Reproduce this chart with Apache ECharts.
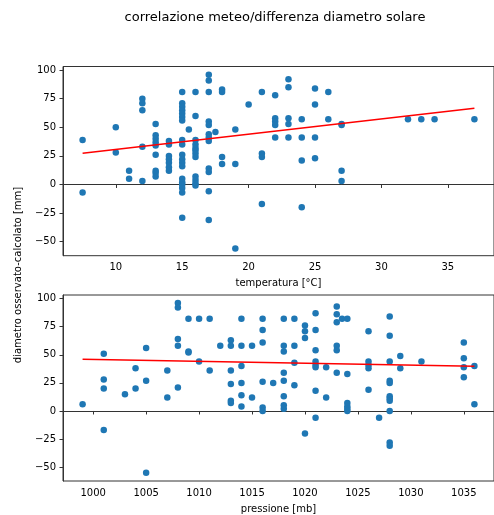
<!DOCTYPE html>
<html>
<head>
<meta charset="utf-8">
<script src="https://cdn.jsdelivr.net/npm/echarts@6/dist/echarts.min.js"></script>
<style>
  html, body { margin: 0; padding: 0; background: #fff; }
  #chart { width: 494px; height: 515px; }
</style>
</head>
<body>
<div id="chart"></div>
<script>
// Text
const chartTitle = 'correlazione meteo/differenza diametro solare';
const diffLabel = 'diametro osservato-calcolato [mm]';
const tempLabel = 'temperatura [°C]';
const pressLabel = 'pressione [mb]';

// Tick values
const tempTicks = [10, 15, 20, 25, 30, 35];
const pressTicks = [1000, 1005, 1010, 1015, 1020, 1025, 1030, 1035];
const diffTicks = [-50, -25, 0, 25, 50, 75, 100];

// Observations: [temperature °C, observed - computed diameter mm]
const tempPoints = [
  [7.5, 39], [7.5, -7],
  [10, 50], [10, 28],
  [11, 12], [11, 5],
  [12, 75], [12, 71], [12, 65], [12, 33], [12, 3],
  [13, 53], [13, 43], [13, 40], [13, 37], [13, 34], [13, 26], [13, 12], [13, 10], [13, 7],
  [14, 38], [14, 35], [14, 25], [14, 22], [14, 19], [14, 15], [14, 12],
  [15, 81], [15, 71], [15, 68], [15, 65], [15, 62], [15, 59], [15, 56], [15, 39], [15, 35],
  [15, 26], [15, 22], [15, 19], [15, 16], [15, 5], [15, 2], [15, 0], [15, -3], [15, -7], [15, -29],
  [15.5, 48],
  [16, 81], [16, 60], [16, 39], [16, 35], [16, 32], [16, 30], [16, 27], [16, 24], [16, 7], [16, 4], [16, 1], [16, -1],
  [17, 96], [17, 91], [17, 81], [17, 55], [17, 52], [17, 44], [17, 41], [17, 38], [17, 14], [17, 11], [17, -6], [17, -31],
  [17.5, 46],
  [18, 83], [18, 81], [18, 24], [18, 18],
  [19, 48], [19, 18], [19, -56],
  [20, 70],
  [21, 81], [21, 27], [21, 24], [21, -17],
  [22, 78], [22, 58], [22, 55], [22, 52], [22, 41],
  [23, 92], [23, 85], [23, 58], [23, 53], [23, 41],
  [24, 57], [24, 41], [24, 21], [24, -20],
  [25, 84], [25, 70], [25, 41], [25, 23],
  [26, 81], [26, 57],
  [27, 53], [27, 52], [27, 12], [27, 3],
  [32, 57], [33, 57], [34, 57], [37, 57]
];

// Observations: [pressure mb, observed - computed diameter mm]
const pressPoints = [
  [999, 6],
  [1001, 51], [1001, 28], [1001, 20], [1001, -17],
  [1003, 15],
  [1004, 38], [1004, 20],
  [1005, 56], [1005, 27], [1005, -55],
  [1007, 36], [1007, 12],
  [1008, 96], [1008, 92], [1008, 64], [1008, 58], [1008, 21],
  [1009, 82], [1009, 53], [1009, 52],
  [1010, 82], [1010, 44],
  [1011, 82], [1011, 36],
  [1012, 58],
  [1013, 63], [1013, 58], [1013, 36], [1013, 24], [1013, 9], [1013, 7],
  [1014, 82], [1014, 58], [1014, 40], [1014, 25], [1014, 14], [1014, 4],
  [1015, 58], [1015, 12],
  [1016, 82], [1016, 72], [1016, 61], [1016, 26], [1016, 3], [1016, 0],
  [1017, 25],
  [1018, 82], [1018, 58], [1018, 53], [1018, 34], [1018, 27], [1018, 13], [1018, 5], [1018, 2],
  [1019, 82], [1019, 58], [1019, 43], [1019, 23],
  [1020, 76], [1020, 71], [1020, 65], [1020, -20],
  [1021, 87], [1021, 72], [1021, 54], [1021, 44], [1021, 41], [1021, 39], [1021, 18], [1021, -6],
  [1022, 39], [1022, 12],
  [1023, 93], [1023, 86], [1023, 79], [1023, 58], [1023, 54], [1023, 34],
  [1023.5, 82],
  [1024, 82], [1024, 33], [1024, 7], [1024, 4], [1024, 2], [1024, 0],
  [1026, 71], [1026, 44], [1026, 41], [1026, 38], [1026, 19],
  [1027, -6],
  [1028, 84], [1028, 67], [1028, 44], [1028, 27], [1028, 25], [1028, 13], [1028, 11], [1028, 9], [1028, 0], [1028, -28], [1028, -31],
  [1029, 49], [1029, 38],
  [1031, 44],
  [1035, 61], [1035, 47], [1035, 39], [1035, 30],
  [1036, 40], [1036, 6]
];

// Linear fit end points
const tempTrend = [[7.5, 27.3], [37, 66.6]];
const pressTrend = [[999, 46.1], [1036, 39.7]];

// Axis extents
const tempRange = [6.025, 38.475];
const pressRange = [997.15, 1037.85];
const diffRange = [-62.3, 103.2];

const FONT = 'DejaVu Sans';
const INK = '#000';
const FRAME = '#333';
const DOT = '#1f77b4';

// Plain numbers, with a true minus sign for negatives and no digit grouping
const numFmt = v => (v < 0 ? '\u2212' + Math.abs(v) : String(v));

function xAxis(gridIndex, range, ticks, name) {
  return {
    type: 'value', gridIndex, min: range[0], max: range[1],
    name, nameLocation: 'middle', nameGap: 23,
    nameTextStyle: { fontFamily: FONT, fontSize: 10, color: INK },
    axisLine: { show: true, lineStyle: { color: FRAME, width: 1 } },
    axisTick: { show: true, length: 3.5, customValues: ticks, lineStyle: { color: FRAME, width: 1 } },
    axisLabel: { customValues: ticks, fontFamily: FONT, fontSize: 10, color: INK, margin: 7, formatter: numFmt },
    splitLine: { show: false }
  };
}

function yAxis(gridIndex) {
  return {
    type: 'value', gridIndex, min: diffRange[0], max: diffRange[1],
    axisLine: { show: true, lineStyle: { color: FRAME, width: 1 } },
    axisTick: { show: true, length: 3.5, customValues: diffTicks, lineStyle: { color: FRAME, width: 1 } },
    axisLabel: { customValues: diffTicks, fontFamily: FONT, fontSize: 10, color: INK, margin: 7, formatter: numFmt },
    splitLine: { show: false }
  };
}

function scatter(idx, data) {
  return {
    type: 'scatter', xAxisIndex: idx, yAxisIndex: idx, data,
    symbolSize: 6.5, itemStyle: { color: DOT, opacity: 1 }, z: 2, silent: true
  };
}

function trend(idx, data) {
  return {
    type: 'line', xAxisIndex: idx, yAxisIndex: idx, data,
    showSymbol: false, lineStyle: { color: '#ff0000', width: 1.5 }, z: 3, silent: true
  };
}

const chart = echarts.init(document.getElementById('chart'), null, { renderer: 'canvas' });
chart.setOption({
  animation: false,
  backgroundColor: '#fff',
  grid: [
    { left: 63, top: 66.5, width: 436.5, height: 189.2, show: true, borderColor: FRAME, borderWidth: 1, backgroundColor: 'transparent' },
    { left: 63, top: 295, width: 436.5, height: 188.3, show: true, borderColor: FRAME, borderWidth: 1, backgroundColor: 'transparent' }
  ],
  xAxis: [
    xAxis(0, tempRange, tempTicks, tempLabel),
    xAxis(1, pressRange, pressTicks, pressLabel)
  ],
  yAxis: [yAxis(0), yAxis(1)],
  series: [
    scatter(0, tempPoints), trend(0, tempTrend),
    scatter(1, pressPoints), trend(1, pressTrend)
  ],
  graphic: [
    {
      type: 'text', x: 275, y: 18,
      style: { text: chartTitle, fontFamily: FONT, fontSize: 13, fill: INK, align: 'center', verticalAlign: 'middle' }
    },
    {
      type: 'text', x: 18, y: 275, rotation: Math.PI / 2,
      style: { text: diffLabel, fontFamily: FONT, fontSize: 10, fill: INK, align: 'center', verticalAlign: 'middle' }
    }
  ]
});
</script>
</body>
</html>
